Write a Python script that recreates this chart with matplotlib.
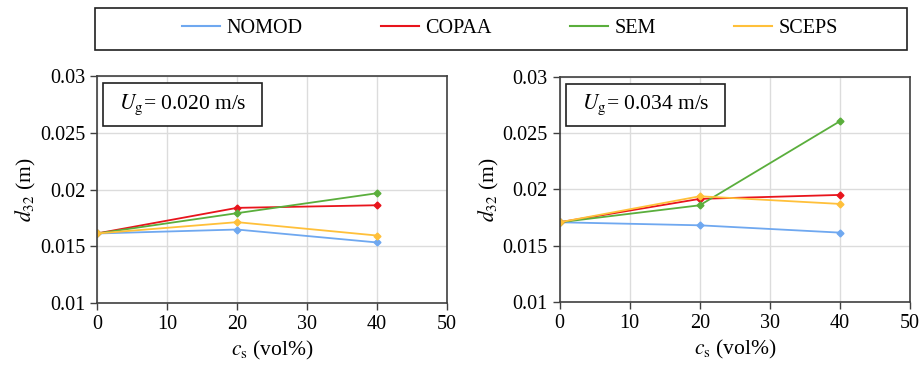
import matplotlib
matplotlib.use("Agg")

import matplotlib.pyplot as plt
from matplotlib.patches import Rectangle


# Data
solid_fraction = [0, 20, 40]

models = ["NOMOD", "COPAA", "SEM", "SCEPS"]
model_colors = ["#6fa8f0", "#e8141c", "#5aae3c", "#ffc03a"]

# Ug = 0.020 m/s
d32_low = {
    "NOMOD": [0.01613, 0.01648, 0.01534],
    "COPAA": [0.01613, 0.01839, 0.01862],
    "SEM": [0.01613, 0.01792, 0.01968],
    "SCEPS": [0.01613, 0.01713, 0.01595],
}

# Ug = 0.034 m/s
d32_high = {
    "NOMOD": [0.01708, 0.01681, 0.01616],
    "COPAA": [0.01708, 0.01916, 0.01951],
    "SEM": [0.01708, 0.01859, 0.02606],
    "SCEPS": [0.01708, 0.01939, 0.01871],
}

panel_labels = ["$U_\\mathrm{g}$= 0.020 m/s", "$U_\\mathrm{g}$= 0.034 m/s"]

x_ticks = [0, 10, 20, 30, 40, 50]
y_ticks = [0.01, 0.015, 0.02, 0.025, 0.03]
y_tick_labels = ["0.01", "0.015", "0.02", "0.025", "0.03"]


plt.rcParams["font.family"] = ["Liberation Serif", "DejaVu Serif"]
plt.rcParams["mathtext.fontset"] = "stix"


def draw_panel(ax, data, label):
    for name, color in zip(models, model_colors):
        ax.plot(
            solid_fraction,
            data[name],
            color=color,
            linewidth=1.3,
            marker="D",
            markersize=3.5,
            label=name,
        )

    ax.set_xlim(0, 50)
    ax.set_ylim(0.01, 0.03)
    ax.set_xticks(x_ticks)
    ax.set_yticks(y_ticks)
    ax.set_yticklabels(y_tick_labels)
    ax.tick_params(labelsize=14.5, direction="out", length=5, width=1,
                   color="#404040")
    ax.grid(True, color="#dcdcdc", linewidth=1)
    ax.set_axisbelow(True)
    for spine in ax.spines.values():
        spine.set_color("#404040")
        spine.set_linewidth(1.2)

    ax.set_xlabel("$c_\\mathrm{s}$ (vol%)", fontsize=15.5, labelpad=4)
    ax.set_ylabel("$d_{32}$ (m)", fontsize=15.5, labelpad=1)

    # Velocity label box
    ax.add_patch(Rectangle((0.017, 0.78), 0.455, 0.19, transform=ax.transAxes,
                           facecolor="white", edgecolor="#202020",
                           linewidth=1.2, zorder=5))
    ax.text(0.245, 0.875, label, transform=ax.transAxes, fontsize=15.5,
            ha="center", va="center", zorder=6)


fig = plt.figure(figsize=(9.22, 3.66), dpi=100)

ax_left = fig.add_axes([0.105, 0.172, 0.380, 0.620])
ax_right = fig.add_axes([0.607, 0.175, 0.380, 0.615])

draw_panel(ax_left, d32_low, panel_labels[0])
draw_panel(ax_right, d32_high, panel_labels[1])

# Shared legend at the top
fig.patches.append(Rectangle((0.103, 0.863), 0.881, 0.115,
                             transform=fig.transFigure, facecolor="white",
                             edgecolor="#202020", linewidth=1.2))
handles = [plt.Line2D([], [], color=c, linewidth=1.5) for c in model_colors]
fig.legend(
    handles,
    models,
    loc="center",
    bbox_to_anchor=(0.553, 0.921),
    ncol=4,
    frameon=False,
    fontsize=14.5,
    handlelength=1.9,
    handletextpad=0.3,
    columnspacing=3.9,
)

fig.savefig("out.png", dpi=100)
plt.close(fig)
